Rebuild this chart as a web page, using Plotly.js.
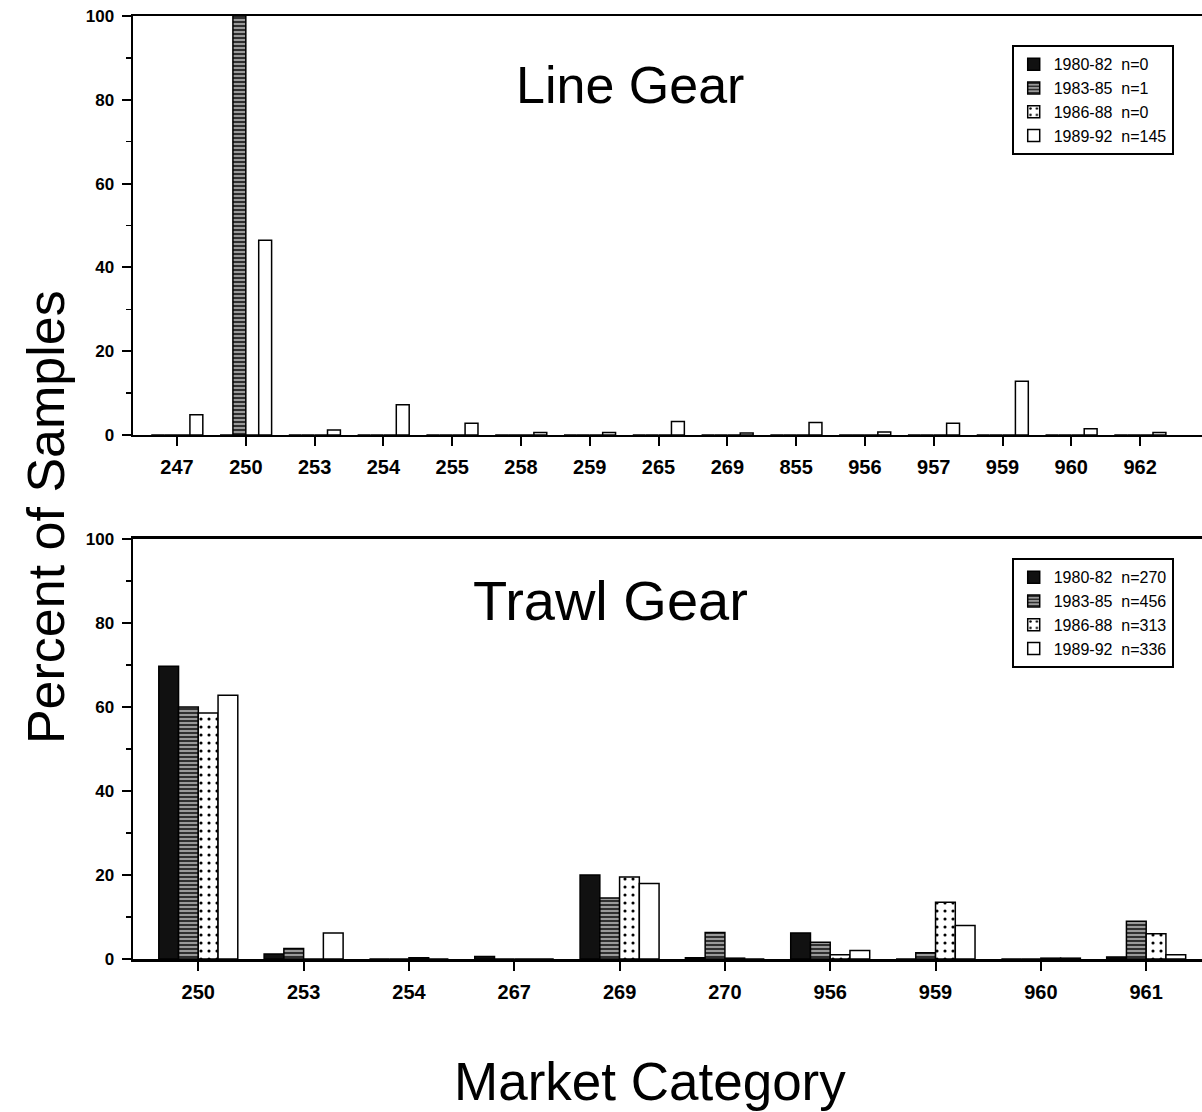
<!DOCTYPE html>
<html>
<head>
<meta charset="utf-8">
<script src="https://cdn.plot.ly/plotly-3.0.1.min.js"></script>
<style>html,body{margin:0;padding:0;background:#fff;}#chart{width:1202px;height:1112px;}</style>
</head>
<body>
<div id="chart"></div>
<script>
// ---- Line Gear (top panel) ----
const lineCats = ["247","250","253","254","255","258","259","265","269","855","956","957","959","960","962"];
const line8082 = [0,0,0,0,0,0,0,0,0,0,0,0,0,0,0];
const line8385 = [0,100,0,0,0,0,0,0,0,0,0,0,0,0,0];
const line8688 = [0,0,0,0,0,0,0,0,0,0,0,0,0,0,0];
const line8992 = [4.8,46.5,1.2,7.2,2.8,0.6,0.6,3.2,0.5,3.0,0.7,2.8,12.8,1.5,0.6];
const lineNames = ["1980-82  n=0","1983-85  n=1","1986-88  n=0","1989-92  n=145"];

// ---- Trawl Gear (bottom panel) ----
const trawlCats = ["250","253","254","267","269","270","956","959","960","961"];
const trawl8082 = [69.7,1.2,0,0.6,20,0.3,6.2,0,0,0.5];
const trawl8385 = [60,2.5,0,0,14.5,6.3,4,1.5,0,9];
const trawl8688 = [58.6,0,0.3,0,19.5,0.2,1,13.5,0.2,6];
const trawl8992 = [62.8,6.2,0,0,18,0,2,8,0.2,1];
const trawlNames = ["1980-82  n=270","1983-85  n=456","1986-88  n=313","1989-92  n=336"];

const styles = [
  {color:"#111", line:{color:"#000",width:1.5}},
  {color:"#8a8a8a", line:{color:"#000",width:1.5}, pattern:{shape:"-", fgcolor:"#222", bgcolor:"#9a9a9a", size:4, solidity:0.45}},
  {color:"#fff", line:{color:"#000",width:1.5}, pattern:{shape:".", fgcolor:"#000", bgcolor:"#fff", size:8, solidity:0.12}},
  {color:"#fff", line:{color:"#000",width:1.5}}
];

const traces = [];
[line8082,line8385,line8688,line8992].forEach((v,i)=>{
  traces.push({type:"bar", x:lineCats, y:v, name:lineNames[i], xaxis:"x", yaxis:"y",
    marker:styles[i], legend:"legend", hoverinfo:"x+y+name"});
});
[trawl8082,trawl8385,trawl8688,trawl8992].forEach((v,i)=>{
  traces.push({type:"bar", x:trawlCats, y:v, name:trawlNames[i], xaxis:"x2", yaxis:"y2",
    marker:styles[i], legend:"legend2", hoverinfo:"x+y+name"});
});

const font = "Liberation Sans, Arial, Helvetica, sans-serif";
const xax = (anchor, range) => ({
  type:"category", domain:[0,1], anchor:anchor, range:range,
  showline:true, linecolor:"#000", linewidth:2.5, mirror:true,
  ticks:"outside", ticklen:9, tickwidth:2, tickcolor:"#000",
  ticklabelstandoff:4, showgrid:false, zeroline:false,
  tickfont:{family:font, size:20, color:"#000", weight:"bold"}
});
const yax = (dom, anchor) => ({
  domain:dom, anchor:anchor, range:[0,100], dtick:20,
  showline:true, linecolor:"#000", linewidth:2.5,
  ticks:"outside", ticklen:9, tickwidth:2, tickcolor:"#000",
  minor:{dtick:10, ticks:"outside", ticklen:5, tickwidth:1.5, tickcolor:"#000"},
  ticklabelstandoff:4, showgrid:false, zeroline:false,
  tickfont:{family:font, size:17, color:"#000", weight:"bold"}
});

const legendStyle = (y) => ({
  x:0.822, y:y, xanchor:"left", yanchor:"top",
  bgcolor:"#fff", bordercolor:"#000", borderwidth:2,
  font:{family:font, size:16, color:"#000"},
  tracegroupgap:0, itemwidth:30, traceorder:"normal"
});

const layout = {
  width:1202, height:1112,
  margin:{l:133, r:0, t:16, b:153},
  paper_bgcolor:"#fff", plot_bgcolor:"#fff",
  barmode:"group", bargap:0.25, bargroupgap:0,
  showlegend:true,
  xaxis: xax("y", [-0.64, 14.9]),
  yaxis: yax([0.5557,1], "x"),
  xaxis2: xax("y2", [-0.62, 9.53]),
  yaxis2: yax([0,0.4454], "x2"),
  legend: legendStyle(0.969),
  legend2: legendStyle(0.425),
  annotations:[
    {text:"Line Gear", xref:"paper", yref:"paper", x:0.465, y:0.927, showarrow:false,
     xanchor:"center", yanchor:"middle",
     font:{family:font, size:52, color:"#000"}},
    {text:"Trawl Gear", xref:"paper", yref:"paper", x:0.447, y:0.38, showarrow:false,
     xanchor:"center", yanchor:"middle",
     font:{family:font, size:56, color:"#000"}},
    {text:"Percent of Samples", xref:"paper", yref:"paper", x:-0.082, y:0.469, showarrow:false,
     textangle:-90, xanchor:"center", yanchor:"middle",
     font:{family:font, size:52, color:"#000"}},
    {text:"Market Category", xref:"paper", yref:"paper", x:0.484, y:-0.13, showarrow:false,
     xanchor:"center", yanchor:"middle",
     font:{family:font, size:53, color:"#000"}}
  ]
};

Plotly.newPlot("chart", traces, layout, {displayModeBar:false, staticPlot:true});
</script>
</body>
</html>
